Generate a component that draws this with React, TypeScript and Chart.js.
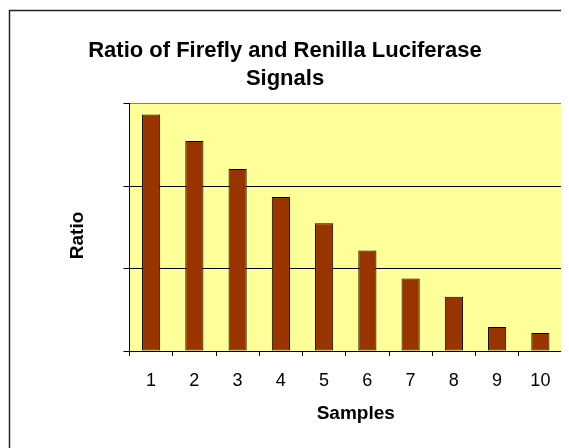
import React, { useEffect, useRef } from "react";
import { Chart, registerables } from "chart.js";

Chart.register(...registerables);

const categories = ["1", "2", "3", "4", "5", "6", "7", "8", "9", "10"];
const ratioValues = [2.87, 2.55, 2.21, 1.87, 1.55, 1.22, 0.88, 0.66, 0.29, 0.22];
const titleLines = ["Ratio of Firefly and Renilla Luciferase", "Signals"];
const xTitle = "Samples";
const yTitle = "Ratio";

const FONT = "'Liberation Sans', Arial, sans-serif";

const frameAndBackground = {
  id: "frameAndBackground",
  beforeDraw(chart: any) {
    const { ctx, chartArea, width, height } = chart;
    ctx.save();
    ctx.fillStyle = "#ffffff";
    ctx.fillRect(0, 0, width, height);
    ctx.strokeStyle = "#222222";
    ctx.lineWidth = 1.5;
    ctx.strokeRect(1.5, 2.5, width + 10, height + 10);
    ctx.fillStyle = "#FFFF99";
    ctx.fillRect(chartArea.left, chartArea.top, chartArea.right - chartArea.left, chartArea.bottom - chartArea.top);
    ctx.restore();
  },
  afterDraw(chart: any) {
    const { ctx, chartArea } = chart;
    ctx.save();
    ctx.strokeStyle = "#808080";
    ctx.lineWidth = 1;
    ctx.beginPath();
    ctx.moveTo(Math.round(chartArea.right) + 0.5, chartArea.top);
    ctx.lineTo(Math.round(chartArea.right) + 0.5, chartArea.bottom);
    ctx.stroke();

    ctx.fillStyle = "#000";
    ctx.font = `bold 19px ${FONT}`;
    ctx.textAlign = "center";
    ctx.textBaseline = "middle";
    ctx.fillText(xTitle, (chartArea.left + chartArea.right) / 2 + 10, chartArea.bottom + 63);

    ctx.translate(chartArea.left - 52, (chartArea.top + chartArea.bottom) / 2 + 8);
    ctx.rotate(-Math.PI / 2);
    ctx.fillText(yTitle, 0, 0);
    ctx.restore();
  },
};

export default function App() {
  const ref = useRef<HTMLCanvasElement | null>(null);
  useEffect(() => {
    if (!ref.current) return;
    const chart = new Chart(ref.current, {
      type: "bar",
      data: {
        labels: categories,
        datasets: [
          {
            data: ratioValues,
            backgroundColor: "#993300",
            borderColor: "#000000",
            borderWidth: 1,
            borderSkipped: false,
            barPercentage: 0.42,
            categoryPercentage: 1,
          },
        ],
      },
      options: {
        responsive: false,
        animation: false,
        layout: { padding: { left: 0, right: 7, top: 0, bottom: 0 } },
        plugins: {
          legend: { display: false },
          tooltip: { enabled: false },
          title: {
            display: true,
            text: titleLines,
            color: "#000",
            font: { family: FONT, size: 22, weight: "bold", lineHeight: 1.27 },
            padding: { top: 29, bottom: 11 },
          },
        },
        scales: {
          x: {
            grid: { offset: true, drawOnChartArea: false, drawTicks: true, tickLength: 5, color: "#000" },
            border: { display: true, color: "#000", width: 1 },
            ticks: {
              color: "#000",
              padding: 14,
              font: { family: FONT, size: 18 },
              maxRotation: 0,
            },
            afterFit(scale: any) {
              scale.height = 97;
            },
          },
          y: {
            min: 0,
            max: 3,
            ticks: { stepSize: 1, display: false },
            grid: {
              drawTicks: true,
              tickLength: 6,
              color: (c: any) => (c.tick && c.tick.value === 3 ? "#808080" : "#000"),
              tickColor: "#000",
            },
            border: { display: true, color: "#000", width: 1 },
            afterFit(scale: any) {
              scale.width = 121.5;
            },
          },
        },
      },
      plugins: [frameAndBackground],
    });
    return () => chart.destroy();
  }, []);
  return <canvas ref={ref} width={561} height={440} style={{ display: "block" }} />;
}
